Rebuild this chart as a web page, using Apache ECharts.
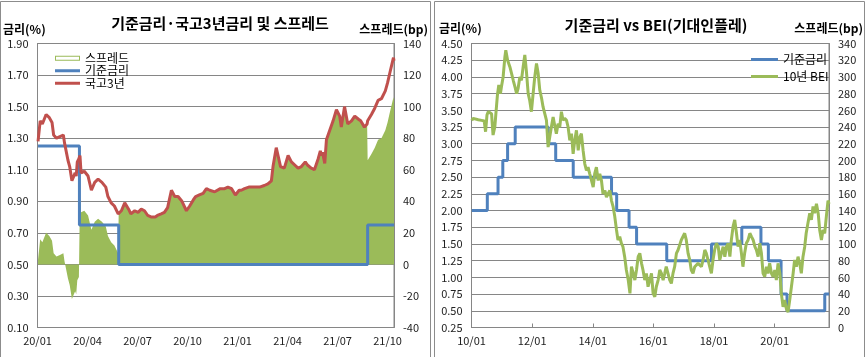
<!DOCTYPE html>
<html><head><meta charset="utf-8">
<script src="https://cdn.jsdelivr.net/npm/echarts@6/dist/echarts.min.js"></script>
<style>html,body{margin:0;padding:0;background:#fff}#c{width:866px;height:357px}</style>
</head><body><div id="c"></div><script>
// ---------- Left chart data ----------
const bondDates = ['2020-01-02','2020-01-06','2020-01-10','2020-01-17','2020-01-23','2020-01-28','2020-01-31','2020-02-05','2020-02-11','2020-02-17',
'2020-02-19','2020-02-25','2020-02-28','2020-03-03','2020-03-09','2020-03-11','2020-03-13','2020-03-16','2020-03-18','2020-03-20',
'2020-03-26','2020-04-02','2020-04-08','2020-04-14','2020-04-20','2020-04-27','2020-05-04','2020-05-08','2020-05-14','2020-05-20',
'2020-05-27','2020-05-28','2020-06-02','2020-06-08','2020-06-15','2020-06-19','2020-06-26','2020-07-02','2020-07-08','2020-07-14',
'2020-07-20','2020-07-27','2020-08-03','2020-08-07','2020-08-14','2020-08-20','2020-08-26','2020-09-02','2020-09-08','2020-09-14',
'2020-09-21','2020-09-29','2020-10-05','2020-10-12','2020-10-16','2020-10-23','2020-10-30','2020-11-05','2020-11-11','2020-11-20',
'2020-11-30','2020-12-08','2020-12-14','2020-12-21','2020-12-28','2021-01-04','2021-01-08','2021-01-14','2021-01-22','2021-02-02',
'2021-02-10','2021-02-18','2021-02-24','2021-03-02','2021-03-05','2021-03-11','2021-03-15','2021-03-19','2021-03-26','2021-04-02',
'2021-04-08','2021-04-14','2021-04-20','2021-04-26','2021-05-03','2021-05-07','2021-05-14','2021-05-20','2021-05-27','2021-05-31',
'2021-06-02','2021-06-04','2021-06-08','2021-06-11','2021-06-17','2021-06-23','2021-06-29','2021-07-05','2021-07-08','2021-07-14',
'2021-07-20','2021-07-27','2021-08-02','2021-08-09','2021-08-13','2021-08-20','2021-08-25','2021-08-26','2021-09-02','2021-09-08',
'2021-09-14','2021-09-20','2021-09-27','2021-10-01','2021-10-05','2021-10-08','2021-10-12','2021-10-13'];
const bondYield = [1.28,1.41,1.39,1.45,1.43,1.40,1.32,1.30,1.31,1.32,
1.27,1.16,1.12,1.03,1.08,1.06,1.15,1.17,1.19,1.08,
1.09,1.06,0.97,1.02,1.04,1.02,0.99,0.93,0.89,0.87,
0.82,0.83,0.84,0.89,0.85,0.82,0.84,0.83,0.85,0.84,
0.81,0.80,0.80,0.81,0.82,0.83,0.86,0.97,0.93,0.93,
0.90,0.84,0.87,0.91,0.93,0.94,0.95,0.98,0.97,0.96,
0.98,0.98,0.99,0.98,0.94,0.97,0.97,0.98,0.99,0.99,
0.99,1.00,1.01,1.03,1.12,1.24,1.18,1.12,1.11,1.19,
1.15,1.13,1.11,1.12,1.15,1.13,1.11,1.10,1.17,1.22,
1.19,1.21,1.14,1.29,1.35,1.41,1.48,1.44,1.37,1.50,
1.39,1.41,1.44,1.42,1.41,1.37,1.39,1.41,1.45,1.49,
1.54,1.55,1.60,1.65,1.71,1.72,1.81,1.79];
const spreadBp = [3,16,14,20,18,15,7,5,6,7,
2,-9,-13,-22,-17,-19,-10,-8,44,33,
34,31,22,27,29,27,24,18,14,12,
7,33,34,39,35,32,34,33,35,34,
31,30,30,31,32,33,36,47,43,43,
40,34,37,41,43,44,45,48,47,46,
48,48,49,48,44,47,47,48,49,49,
49,50,51,53,62,74,68,62,61,69,
65,63,61,62,65,63,61,60,67,72,
69,71,64,79,85,91,98,94,87,100,
89,91,94,92,91,87,89,66,70,74,
79,80,85,90,96,97,106,104];
const baseDatesL = ['2020-01-02','2020-03-17','2020-05-28','2021-08-26','2021-10-13'];
const baseRateL = [1.25,0.75,0.50,0.75,0.75];
const xLabelsL = ['20/01','20/04','20/07','20/10','21/01','21/04','21/07','21/10'];

// ---------- Right chart data ----------
const beiDates = ['2010-01-04','2010-01-21','2010-02-10','2010-03-22','2010-04-30','2010-06-02','2010-06-18','2010-07-05','2010-07-20','2010-08-09',
'2010-08-30','2010-09-17','2010-10-08','2010-10-28','2010-11-09','2010-11-25','2010-12-15','2010-12-27','2011-01-17','2011-02-07',
'2011-02-17','2011-03-10','2011-04-07','2011-04-27','2011-05-17','2011-06-07','2011-06-27','2011-07-15','2011-08-05','2011-08-25',
'2011-09-14','2011-10-04','2011-10-24','2011-11-14','2011-12-02','2011-12-23','2012-01-13','2012-02-02','2012-02-22','2012-03-13',
'2012-04-02','2012-04-23','2012-05-11','2012-06-01','2012-06-21','2012-07-11','2012-07-31','2012-08-20','2012-09-10','2012-09-28',
'2012-10-19','2012-11-09','2012-11-29','2012-12-19','2013-01-08','2013-01-28','2013-02-18','2013-03-08','2013-03-29','2013-04-18',
'2013-05-08','2013-05-28','2013-06-17','2013-07-08','2013-07-29','2013-08-16','2013-09-06','2013-09-26','2013-10-16','2013-11-05',
'2013-11-25','2013-12-16','2014-01-06','2014-01-24','2014-02-13','2014-03-05','2014-03-25','2014-04-14','2014-05-02','2014-05-26',
'2014-06-13','2014-07-04','2014-07-24','2014-08-13','2014-09-02','2014-09-22','2014-10-13','2014-10-31','2014-11-21','2014-12-11',
'2014-12-30','2015-01-20','2015-02-09','2015-03-02','2015-03-23','2015-04-10','2015-05-01','2015-05-21','2015-06-10','2015-06-30',
'2015-07-20','2015-08-10','2015-08-28','2015-09-18','2015-10-08','2015-10-28','2015-11-18','2015-12-08','2015-12-28','2016-01-18',
'2016-02-05','2016-02-26','2016-03-17','2016-04-06','2016-04-26','2016-05-16','2016-06-03','2016-06-24','2016-07-15','2016-08-04',
'2016-08-24','2016-09-13','2016-10-04','2016-10-24','2016-12-02','2017-01-12','2017-02-01','2017-02-21','2017-03-13','2017-03-31',
'2017-04-21','2017-05-12','2017-06-21','2017-08-01','2017-08-21','2017-09-11','2017-09-29','2017-10-20','2017-11-09','2017-11-29',
'2017-12-19','2018-01-08','2018-01-29','2018-02-19','2018-03-09','2018-03-29','2018-04-19','2018-05-09','2018-05-29','2018-06-18',
'2018-07-09','2018-07-27','2018-08-17','2018-09-06','2018-09-27','2018-10-16','2018-11-05','2018-11-26','2018-12-14','2019-01-04',
'2019-01-25','2019-02-14','2019-03-06','2019-03-26','2019-04-15','2019-05-06','2019-05-24','2019-06-14','2019-07-04','2019-07-24',
'2019-08-13','2019-09-02','2019-09-23','2019-10-11','2019-11-01','2019-11-22','2019-12-12','2020-01-02','2020-01-21','2020-02-10',
'2020-03-02','2020-03-20','2020-04-10','2020-04-29','2020-05-20','2020-06-09','2020-06-29','2020-07-20','2020-08-10','2020-08-28',
'2020-09-18','2020-10-08','2020-10-28','2020-11-17','2020-12-07','2020-12-28','2021-01-15','2021-02-05','2021-02-25','2021-03-17',
'2021-04-06','2021-04-26','2021-05-17','2021-06-07','2021-06-25','2021-07-16','2021-08-05','2021-08-25','2021-09-14','2021-10-04',
'2021-10-16'];
const beiValues = [3.35,3.38,3.39,3.36,3.35,3.34,3.18,3.43,3.48,3.49,
3.45,3.13,3.25,3.55,3.73,3.88,3.75,3.85,4.00,4.30,
4.40,4.25,4.15,4.05,3.95,3.85,3.75,3.83,4.00,3.95,
4.15,4.33,4.08,3.75,3.65,3.48,3.75,4.00,4.20,4.05,
3.80,3.68,3.55,3.45,3.35,2.95,3.10,3.25,3.40,3.28,
3.15,3.30,3.25,3.48,3.35,3.38,3.35,3.25,3.05,3.15,
2.85,3.05,3.20,2.90,3.10,3.15,2.90,2.70,2.60,2.65,
2.55,2.45,2.35,2.55,2.65,2.45,2.55,2.45,2.25,2.30,
2.20,2.20,2.30,2.15,2.06,1.91,1.71,1.56,1.61,1.51,
1.46,1.31,1.11,0.96,0.76,1.16,1.06,0.96,1.11,1.31,
1.36,1.21,1.11,0.96,1.06,0.86,0.96,1.06,0.76,0.71,
0.86,0.96,1.11,1.06,0.96,1.06,1.16,1.06,0.96,0.91,
1.06,1.16,1.36,1.41,1.56,1.66,1.56,1.36,1.26,1.11,
1.06,1.16,1.21,1.16,1.26,1.41,1.36,1.26,1.16,1.06,
1.26,1.41,1.51,1.46,1.26,1.36,1.46,1.31,1.46,1.51,
1.31,1.56,1.76,1.86,1.66,1.46,1.56,1.36,1.16,1.36,
1.51,1.56,1.66,1.61,1.56,1.46,1.41,1.31,1.51,1.36,
1.06,1.01,1.16,1.06,1.21,1.06,1.01,1.11,0.96,1.21,
1.06,0.76,0.56,0.66,0.53,0.48,0.66,0.86,1.06,1.26,
1.16,1.31,1.21,1.06,1.31,1.46,1.66,1.81,1.96,1.86,
2.06,1.96,2.10,1.96,1.71,1.56,1.71,1.66,1.91,2.15,
2.10];
const baseDatesR = ['2010-01-04','2010-07-09','2010-11-16','2011-01-13','2011-03-10','2011-06-10','2012-07-12','2012-10-11','2013-05-09','2014-08-14',
'2014-10-15','2015-03-12','2015-06-11','2016-06-09','2017-11-30','2018-11-30','2019-07-18','2019-10-16','2020-03-17','2020-05-28',
'2021-08-26','2021-10-16'];
const baseRateR = [2.00,2.25,2.50,2.75,3.00,3.25,3.00,2.75,2.50,2.25,
2.00,1.75,1.50,1.25,1.50,1.75,1.50,1.25,0.75,0.50,
0.75,0.75];
const xLabelsR = ['10/01','12/01','14/01','16/01','18/01','20/01'];

// ---------- helpers ----------
function mIdx(d, y0) {
  const p = d.split('-').map(Number);
  const dim = new Date(p[0], p[1], 0).getDate();
  return (p[0] - y0) * 12 + (p[1] - 1) + (p[2] - 1) / dim;
}
const pairs = (dates, vals, y0) => dates.map((d, i) => [mIdx(d, y0), vals[i]]);

const FONT = '"Noto Sans CJK KR", "Noto Sans", sans-serif';
const GRID = '#868686';
const BLUE = '#4F81BD', RED = '#C0504D', GREEN = '#9BBB59';

const xMaxL = mIdx(bondDates[bondDates.length - 1], 2020);
const xMaxR = mIdx(beiDates[beiDates.length - 1], 2010);

function xAxisCfg(gi, max, step, labels) {
  return {
    type: 'value', gridIndex: gi, min: 0, max: max, interval: step,
    axisLine: { lineStyle: { color: GRID } },
    axisTick: { show: true, inside: true, length: 4, lineStyle: { color: GRID } },
    splitLine: { show: false },
    axisLabel: {
      fontFamily: FONT, fontSize: 11, color: '#222', margin: 8,
      formatter: v => { const k = v / step; const r = Math.round(k); return Math.abs(k - r) < 1e-6 && labels[r] ? labels[r] : ''; }
    }
  };
}
function yAxisCfg(gi, min, max, step, dec, pos, split) {
  return {
    type: 'value', gridIndex: gi, min: min, max: max, interval: step, position: pos,
    axisLine: { show: true, lineStyle: { color: GRID } },
    axisTick: { show: false },
    splitLine: { show: split, lineStyle: { color: GRID, width: 1 } },
    axisLabel: { fontFamily: FONT, fontSize: 11, color: '#222', margin: 9, formatter: v => v.toFixed(dec) }
  };
}

const chart = echarts.init(document.getElementById('c'), null, { renderer: 'canvas' });
chart.setOption({
  animation: false,
  backgroundColor: '#fff',
  title: [
    { text: '기준금리·국고3년금리 및 스프레드', left: 215, top: 11, textAlign: 'center',
      textStyle: { fontFamily: FONT, fontSize: 15, fontWeight: 'bold', color: '#000' } },
    { text: '기준금리 vs BEI(기대인플레)', left: 651, top: 13, textAlign: 'center',
      textStyle: { fontFamily: FONT, fontSize: 15, fontWeight: 'bold', color: '#000' } }
  ],
  graphic: [
    { type: 'rect', shape: { x: 0.5, y: 1.5, width: 430, height: 360 }, style: { fill: 'none', stroke: '#8c8c8c', lineWidth: 1 }, silent: true },
    { type: 'rect', shape: { x: 434.5, y: 1.5, width: 430, height: 360 }, style: { fill: 'none', stroke: '#8c8c8c', lineWidth: 1 }, silent: true },
    { type: 'text', x: 3, y: 29, style: { text: '금리(%)', font: 'bold 12px ' + FONT, fill: '#000', textVerticalAlign: 'middle' } },
    { type: 'text', x: 428, y: 29, style: { text: '스프레드(bp)', font: 'bold 12px ' + FONT, fill: '#000', textAlign: 'right', textVerticalAlign: 'middle' } },
    { type: 'text', x: 439, y: 28, style: { text: '금리(%)', font: 'bold 12px ' + FONT, fill: '#000', textVerticalAlign: 'middle' } },
    { type: 'text', x: 863, y: 28, style: { text: '스프레드(bp)', font: 'bold 12px ' + FONT, fill: '#000', textAlign: 'right', textVerticalAlign: 'middle' } }
  ],
  legend: [
    { orient: 'vertical', left: 50, top: 47, itemWidth: 25, itemHeight: 5, itemGap: 0,
      textStyle: { fontFamily: FONT, fontSize: 12, color: '#000', lineHeight: 12.5 },
      data: [
        { name: '스프레드', icon: 'path://M0,0H25V5H0Z M1,1V4H24V1Z' },
        { name: '기준금리', icon: 'path://M0,0h25v3h-25z' },
        { name: '국고3년', icon: 'path://M0,0h25v3h-25z' }
      ] },
    { orient: 'vertical', left: 746, top: 48, itemWidth: 27, itemHeight: 6, itemGap: 4,
      textStyle: { fontFamily: FONT, fontSize: 12, color: '#000', lineHeight: 13 },
      data: [
        { name: '기준금리', icon: 'path://M0,0h27v3h-27z' },
        { name: '10년 BEI', icon: 'path://M0,0h27v3h-27z' }
      ] }
  ],
  grid: [
    { left: 37.5, top: 43.5, width: 356.5, height: 284, show: true, borderColor: GRID, borderWidth: 1, backgroundColor: 'transparent' },
    { left: 471.5, top: 43.5, width: 357.5, height: 284, show: true, borderColor: GRID, borderWidth: 1, backgroundColor: 'transparent' }
  ],
  xAxis: [
    xAxisCfg(0, xMaxL, 3, xLabelsL),
    xAxisCfg(1, xMaxR, 24, xLabelsR)
  ],
  yAxis: [
    yAxisCfg(0, 0.10, 1.90, 0.20, 2, 'left', true),
    yAxisCfg(0, -40, 140, 20, 0, 'right', false),
    yAxisCfg(1, 0.25, 4.50, 0.25, 2, 'left', true),
    yAxisCfg(1, 0, 340, 20, 0, 'right', false)
  ],
  series: [
    { name: '스프레드', type: 'line', xAxisIndex: 0, yAxisIndex: 1, data: pairs(bondDates, spreadBp, 2020),
      symbol: 'none', lineStyle: { width: 0, color: GREEN }, itemStyle: { color: GREEN },
      areaStyle: { color: GREEN, opacity: 1, origin: 0 }, z: 1 },
    { name: '기준금리', type: 'line', xAxisIndex: 0, yAxisIndex: 0, data: pairs(baseDatesL, baseRateL, 2020),
      step: 'end', symbol: 'none', lineStyle: { width: 3, color: BLUE }, itemStyle: { color: BLUE }, z: 2 },
    { name: '국고3년', type: 'line', xAxisIndex: 0, yAxisIndex: 0, data: pairs(bondDates, bondYield, 2020),
      symbol: 'none', lineStyle: { width: 3, color: RED }, itemStyle: { color: RED }, z: 3 },
    { name: '기준금리', type: 'line', xAxisIndex: 1, yAxisIndex: 2, data: pairs(baseDatesR, baseRateR, 2010),
      step: 'end', symbol: 'none', lineStyle: { width: 3, color: BLUE }, itemStyle: { color: BLUE }, z: 2 },
    { name: '10년 BEI', type: 'line', xAxisIndex: 1, yAxisIndex: 2, data: pairs(beiDates, beiValues, 2010),
      symbol: 'none', lineStyle: { width: 3, color: GREEN }, itemStyle: { color: GREEN }, z: 3 }
  ]
});
</script></body></html>
